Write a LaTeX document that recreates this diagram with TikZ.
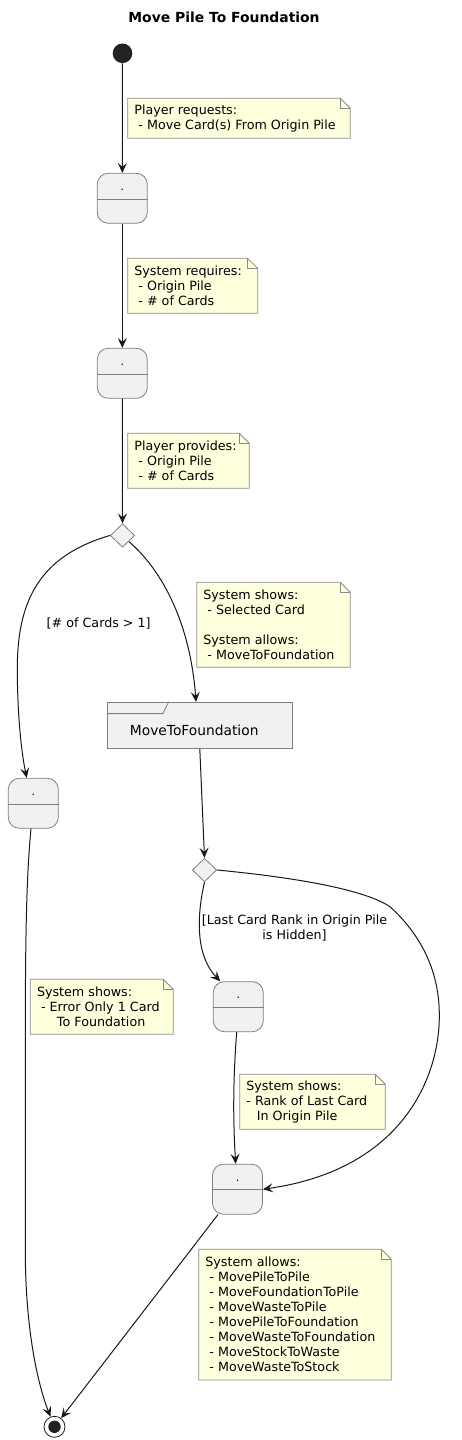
\documentclass[tikz,border=0pt]{standalone}
\usepackage{fontspec}
\setmainfont{DejaVu Sans}
\usetikzlibrary{arrows.meta,shapes.geometric}
\definecolor{notefill}{HTML}{FEFFDD}
\definecolor{noteline}{HTML}{8A8A8A}
\definecolor{statefill}{HTML}{F1F1F1}
\definecolor{stateline}{HTML}{7F7F7F}
\definecolor{linec}{HTML}{181818}
\definecolor{startc}{HTML}{222222}
\newcommand\lead[1]{\hspace*{#1\fontdimen2\font}}
\newcommand\NoteBox[6]{%
  \path[notebox] (#2,#3) -- ({#4-10},#3) -- (#4,{#3+10}) -- (#4,#5) -- (#2,#5) -- cycle;
  \draw[notefold] ({#4-10},#3) -- ({#4-10},{#3+10}) -- (#4,{#3+10});
  \node[notetext] (#1) at ({#2+6.5},{(#3+#5)/2}) {#6};}
\tikzset{
  notebox/.style={fill=notefill, draw=noteline, line width=0.8pt},
  notefold/.style={draw=noteline, line width=0.8pt},
  notetext/.style={anchor=west, inner sep=0pt, align=left, text=black, font=\fontsize{12.7}{15}\selectfont},
  statebox/.style={draw=stateline, fill=statefill, line width=0.8pt, rounded corners=11pt, minimum width=50pt, minimum height=50pt, inner sep=0pt},
  statedot/.style={anchor=base, inner sep=0pt, font=\fontsize{11}{13}\selectfont},
  choice/.style={diamond, draw=stateline, fill=statefill, line width=0.8pt, minimum width=24.5pt, minimum height=23.5pt, inner sep=0pt, aspect=1},
  arr/.style={draw=linec, line width=1pt, -{Stealth[length=10pt,width=9pt,inset=4pt]}},
  guard/.style={inner sep=0pt, align=center, font=\fontsize{12.7}{15}\selectfont},
}
\begin{document}
\begin{tikzpicture}[x=1pt,y=-1pt]
\useasboundingbox (0,0) rectangle (462,1440);
% title
\node[font=\bfseries\fontsize{13.9}{16}\selectfont, inner sep=0pt] (title) at (224,17.5) {Move Pile To Foundation};
% start
\node[circle, fill=startc, minimum size=19.6pt, inner sep=0pt] (start) at (122.5,53.3) {};
% states
\node[statebox] (s1) at (122.3,198.3) {};
\node[statebox] (s2) at (122.3,373.3) {};
\node[statebox] (s3) at (33.3,803.3) {};
\node[statebox] (s4) at (238.3,1006.7) {};
\node[statebox] (s5) at (237.5,1189.2) {};
\foreach \s in {s1,s2,s3,s4,s5}{
  \draw[draw=stateline, line width=0.8pt] ([yshift=-26pt]\s.north west) -- ([yshift=-26pt]\s.north east);
  \node[statedot] (\s dot) at ([yshift=-17.5pt]\s.north) {.};
}
% choices
\node[choice] (d1) at (122.5,535.5) {};
\node[choice] (d2) at (204.5,870) {};
% composite state MoveToFoundation
\node[draw=stateline, fill=statefill, line width=0.8pt, minimum width=185pt, minimum height=46pt, inner sep=0pt] (mtf) at (199.8,725.3) {};
\draw[draw=stateline, line width=0.8pt] ([yshift=-11.7pt]mtf.north west) -- ([xshift=56pt,yshift=-11.7pt]mtf.north west) -- ([xshift=61.7pt]mtf.north west);
\node[anchor=base, inner sep=0pt, font=\fontsize{13.8}{16}\selectfont] (mtft) at (194.2,735) {MoveToFoundation};
% end
\node[circle, draw=linec, fill=white, line width=0.8pt, minimum size=21pt, inner sep=0pt,
  path picture={\fill[startc] (path picture bounding box.center) circle (6.2pt);}] (endc) at (54.5,1426.8) {};
% notes
\NoteBox{n1}{127.7}{98.3}{350.3}{138.3}{Player requests:\\\lead{1}- Move Card(s) From Origin Pile}
\NoteBox{n2}{127.7}{258.3}{257.7}{313.3}{System requires:\\\lead{1}- Origin Pile\\\lead{1}- \# of Cards}
\NoteBox{n3}{127.7}{433.3}{249.3}{488.3}{Player provides:\\\lead{1}- Origin Pile\\\lead{1}- \# of Cards}
\NoteBox{n4}{196.7}{582.3}{350.3}{667.3}{System shows:\\\lead{1}- Selected Card\\[15pt]System allows:\\\lead{1}- MoveToFoundation}
\NoteBox{n5}{30.3}{979.3}{173.3}{1034.3}{System shows:\\\lead{1}- Error Only 1 Card\\\hspace*{20pt}To Foundation}
\NoteBox{n6}{239.7}{1074.3}{385.3}{1129.3}{System shows:\\- Rank of Last Card\\\hspace*{10.5pt}In Origin Pile}
\NoteBox{n7}{198.7}{1249.3}{391.3}{1380}{System allows:\\\lead{1}- MovePileToPile\\\lead{1}- MoveFoundationToPile\\\lead{1}- MoveWasteToPile\\\lead{1}- MovePileToFoundation\\\lead{1}- MoveWasteToFoundation\\\lead{1}- MoveStockToWaste\\\lead{1}- MoveWasteToStock}
% guards
\node[guard] (g1) at (98.7,624) {[\# of Cards > 1]};
\node[guard] (g2) at (294.5,927.8) {[Last Card Rank in Origin Pile\\is Hidden]};
% connectors
\draw[arr] (start) -- (s1);
\draw[arr] (s1) -- (s2);
\draw[arr] (s2) -- (d1);
\draw[arr] (d1.west) .. controls (40,556) and (17,600) .. (17.3,670) .. controls (17.5,720) and (22,755) .. ([xshift=-6.6pt]s3.north);
\draw[arr] (d1.south east) .. controls (160,568) and (190,620) .. ([xshift=-3.8pt]mtf.north);
\draw[arr] ([xshift=-2.3pt]s3.south) .. controls (26,880) and (25.3,950) .. (25.3,1050) -- (25.3,1250) .. controls (25.3,1330) and (38,1385) .. (endc);
\draw[arr] (mtf.south) -- (d2.north);
\draw[arr] (d2.south) .. controls (197,915) and (195,955) .. ([xshift=-18pt]s4.north);
\draw[arr] (d2.east) .. controls (300,878) and (365,890) .. (390,906.7) .. controls (410,925) and (440,960) .. (439.3,1016.7) .. controls (439,1080) and (400,1170) .. (s5.east);
\draw[arr] ([xshift=-1.6pt]s4.south) .. controls (233,1080) and (233,1120) .. ([xshift=-1.8pt]s5.north);
\draw[arr] (s5) -- (endc);
\end{tikzpicture}
\end{document}
